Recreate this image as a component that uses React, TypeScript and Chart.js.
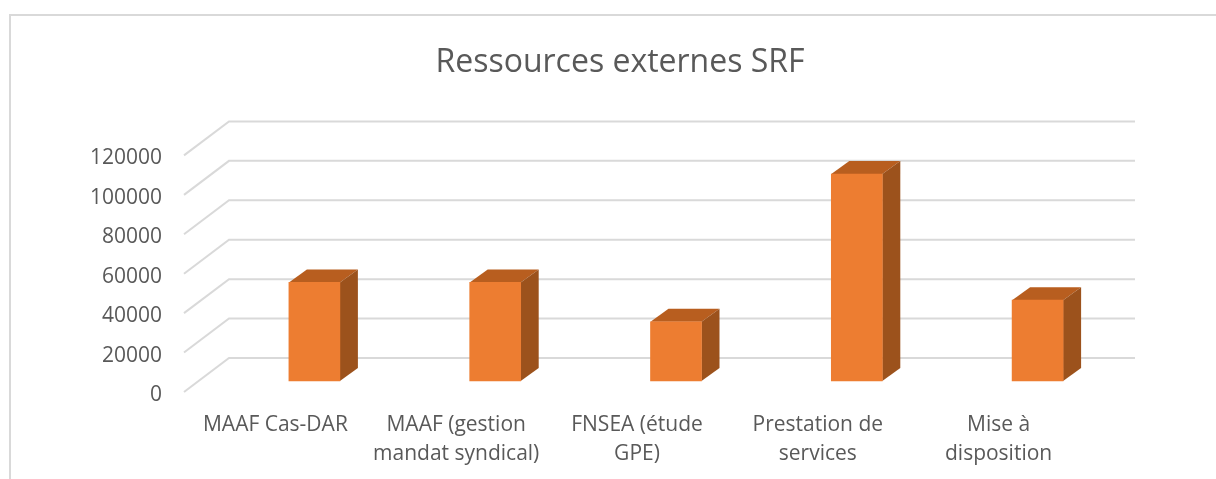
import React, { useEffect, useRef } from "react";
import { Chart, registerables } from "chart.js";

Chart.register(...registerables);

const categories: string[][] = [
  ["MAAF Cas-DAR"],
  ["MAAF (gestion", "mandat syndical)"],
  ["FNSEA (étude", "GPE)"],
  ["Prestation de", "services"],
  ["Mise à", "disposition"],
];
const values = [50000, 50000, 30000, 105000, 41000];
const FONT = '"Open Sans", sans-serif';

const frame = {
  id: "frame",
  beforeDraw(chart: any) {
    const { ctx, width, height } = chart;
    ctx.save();
    ctx.fillStyle = "#ffffff";
    ctx.fillRect(0, 0, width, height);
    ctx.strokeStyle = "#d9d9d9";
    ctx.lineWidth = 2;
    ctx.beginPath();
    ctx.moveTo(10, height);
    ctx.lineTo(10, 15);
    ctx.lineTo(width, 15);
    ctx.stroke();
    // oblique walls of the pseudo-3D plot, from the y scale's ticks
    const y = chart.scales.y;
    const front = chart.scales.x.left - 40;
    const dx = 45;
    const dy = 34;
    const end = chart.scales.x.right + 7;
    y.ticks.forEach((_: any, i: number) => {
      const p = y.getPixelForTick(i);
      ctx.beginPath();
      ctx.moveTo(front, p);
      ctx.lineTo(front + dx, p - dy);
      ctx.lineTo(end, p - dy);
      ctx.stroke();
    });
    ctx.restore();
  },
};

const bars3d = {
  id: "bars3d",
  beforeDatasetDraw(chart: any, args: any) {
    const { ctx } = chart;
    const dx = 18;
    const dy = 13;
    ctx.save();
    ctx.translate(0, -11);
    args.meta.data.forEach((bar: any) => {
      const p = bar.getProps(["x", "y", "base", "width"], true);
      const l = p.x - p.width / 2;
      const r = p.x + p.width / 2;
      ctx.fillStyle = "#b85e1f";
      ctx.beginPath();
      ctx.moveTo(l, p.y);
      ctx.lineTo(l + dx, p.y - dy);
      ctx.lineTo(r + dx, p.y - dy);
      ctx.lineTo(r, p.y);
      ctx.closePath();
      ctx.fill();
      ctx.fillStyle = "#9c521c";
      ctx.beginPath();
      ctx.moveTo(r, p.y);
      ctx.lineTo(r + dx, p.y - dy);
      ctx.lineTo(r + dx, p.base - dy);
      ctx.lineTo(r, p.base);
      ctx.closePath();
      ctx.fill();
    });
  },
  afterDatasetDraw(chart: any) {
    chart.ctx.restore();
  },
};

export default function App() {
  const ref = useRef<HTMLCanvasElement>(null);
  useEffect(() => {
    const chart = new Chart(ref.current!, {
      type: "bar",
      data: {
        labels: categories as any,
        datasets: [
          {
            label: "Ressources externes SRF",
            data: values,
            backgroundColor: "#ed7d31",
            barThickness: 51,
            clip: false as any,
          },
        ],
      },
      plugins: [frame, bars3d],
      options: {
        animation: false,
        responsive: false,
        layout: { padding: { left: 112, right: 88, top: 0, bottom: 0 } },
        plugins: {
          legend: { display: false },
          tooltip: { enabled: false },
          title: {
            display: true,
            text: "Ressources externes SRF",
            color: "#595959",
            font: { family: FONT, size: 32, weight: "normal" },
            padding: { top: 44, bottom: 73 },
          },
        },
        scales: {
          x: {
            grid: { display: false },
            border: { display: false },
            afterFit: (s: any) => {
              s.height = 87;
            },
            ticks: {
              color: "#595959",
              font: { family: FONT, size: 21, lineHeight: 1.4 },
              padding: 10,
              labelOffset: -39,
              maxRotation: 0,
              autoSkip: false,
            },
          },
          y: {
            min: 0,
            max: 120000,
            grid: { display: false },
            border: { display: false },
            afterFit: (s: any) => {
              s.width = 112;
            },
            afterUpdate: (s: any) => {
              if (s.wrappedLabels) return;
              s.wrappedLabels = true;
              const draw = s.drawLabels;
              s.drawLabels = function (area: any) {
                const left = s.left;
                s.left = 0; // the labels sit left of the narrowed axis box: widen its clip
                s.ctx.save();
                s.ctx.translate(0, 3);
                draw.call(s, area);
                s.ctx.restore();
                s.left = left;
              };
            },
            ticks: {
              stepSize: 20000,
              color: "#595959",
              font: { family: FONT, size: 21 },
              padding: 54,
              callback: (v: any) => String(v),
            },
          },
        },
      },
    } as any);
    return () => chart.destroy();
  }, []);
  return (
    <div style={{ position: "fixed", left: 0, top: 0, width: 1216, height: 479 }}>
      <canvas ref={ref} width={1216} height={479} style={{ display: "block" }} />
    </div>
  );
}
